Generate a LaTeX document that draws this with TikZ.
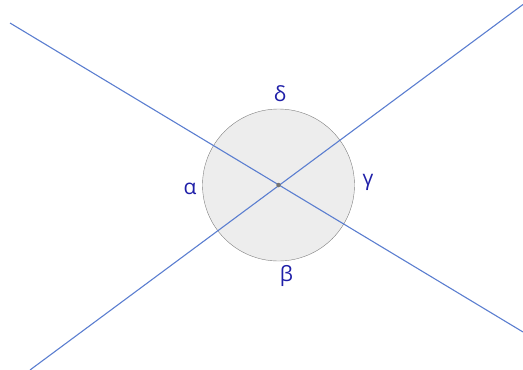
\documentclass[tikz,border=0pt]{standalone}
\usepackage{fontspec}
\setmainfont{Open Sans}
\usepackage{tikz}
\usetikzlibrary{positioning}

\definecolor{linecol}{HTML}{5B7ED0}
\definecolor{labcol}{HTML}{1F1FA8}

\begin{document}
\begin{tikzpicture}[
    x=1pt, y=-1pt,
    disc/.style={circle, draw=black!50, fill=black!7, minimum size=152pt, inner sep=0pt},
    ln/.style={draw=linecol, line width=1.1pt},
    lab/.style={text=labcol, font=\fontsize{21}{24}\selectfont, inner sep=0pt},
    dot/.style={circle, fill=black!55, minimum size=4.5pt, inner sep=0pt}
]
\useasboundingbox (0,0) rectangle (523,370);
\node[disc] (c) at (278.5,185) {};
\coordinate (a1) at (10,23);
\coordinate (a2) at (523,332);
\coordinate (b1) at (30,370);
\coordinate (b2) at (523,4.5);
\draw[ln] (a1) -- (a2);
\draw[ln] (b1) -- (b2);
\node[dot] (o) at (c.center) {};

\node[lab] (delta) at (280,94) {δ};
\node[lab] (gamma) at (368,182) {γ};
\node[lab] (alpha) at (190,189) {α};
\node[lab] (beta) at (286.5,276) {β};
\end{tikzpicture}
\end{document}
